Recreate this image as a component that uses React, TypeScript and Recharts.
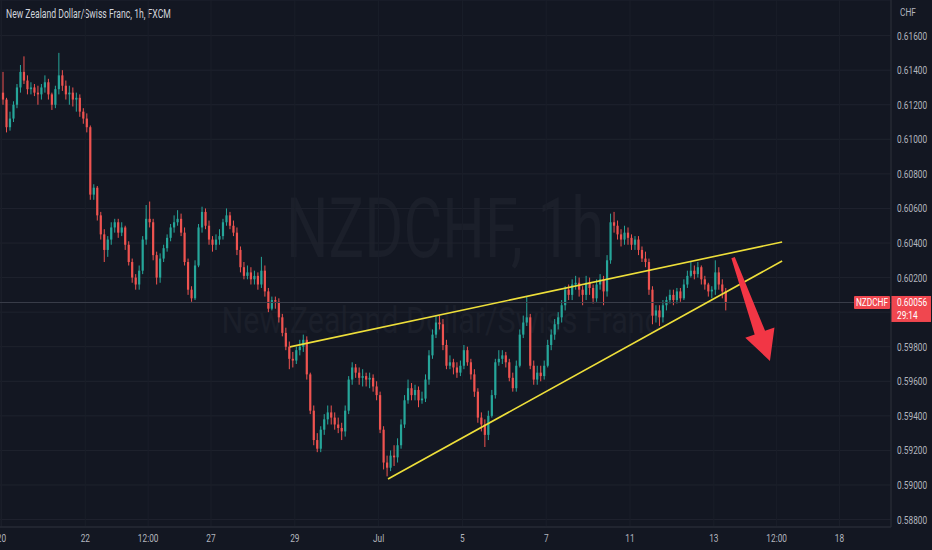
import React from 'react';
import { ComposedChart, Bar, XAxis, YAxis, CartesianGrid, ReferenceLine } from 'recharts';

const firstOpen = 0.6127;
const closes = [
  0.6123, 0.6107, 0.6112, 0.6120, 0.6130, 0.6139, 0.6134, 0.6129, 0.6130, 0.6127,
  0.6126, 0.6130, 0.6133, 0.6126, 0.6120, 0.6129, 0.6137, 0.6131, 0.6126, 0.6127,
  0.6123, 0.6124, 0.6116, 0.6112, 0.6107, 0.6068, 0.6072, 0.6056, 0.6045, 0.6036,
  0.6042, 0.6049, 0.6052, 0.6046, 0.6049, 0.6039, 0.6029, 0.6020, 0.6016, 0.6024,
  0.6042, 0.6054, 0.6052, 0.6033, 0.6020, 0.6031, 0.6037, 0.6043, 0.6049, 0.6052,
  0.6054, 0.6046, 0.6029, 0.6013, 0.6008, 0.6027, 0.6049, 0.6058, 0.6050, 0.6042,
  0.6039, 0.6042, 0.6044, 0.6052, 0.6056, 0.6050, 0.6046, 0.6036, 0.6026, 0.6021,
  0.6023, 0.6019, 0.6021, 0.6016, 0.6024, 0.6012, 0.6002, 0.6007, 0.6006, 0.5997,
  0.5988, 0.5980, 0.5973, 0.5972, 0.5978, 0.5980, 0.5984, 0.5964, 0.5943, 0.5926,
  0.5921, 0.5932, 0.5938, 0.5942, 0.5939, 0.5935, 0.5933, 0.5931, 0.5943, 0.5961,
  0.5968, 0.5965, 0.5962, 0.5963, 0.5961, 0.5962, 0.5957, 0.5952, 0.5932, 0.5913,
  0.5910, 0.5917, 0.5916, 0.5923, 0.5935, 0.5949, 0.5956, 0.5952, 0.5955, 0.5949,
  0.5950, 0.5961, 0.5975, 0.5987, 0.5994, 0.5993, 0.5981, 0.5969, 0.5971, 0.5968,
  0.5965, 0.5969, 0.5978, 0.5971, 0.5964, 0.5954, 0.5939, 0.5935, 0.5929, 0.5940,
  0.5952, 0.5971, 0.5973, 0.5975, 0.5971, 0.5962, 0.5956, 0.5969, 0.5987, 0.5994,
  0.5997, 0.5969, 0.5961, 0.5965, 0.5963, 0.5969, 0.5981, 0.5987, 0.5993, 0.5997,
  0.6004, 0.6013, 0.6010, 0.6016, 0.6017, 0.6013, 0.6010, 0.6017, 0.6014, 0.6008,
  0.6016, 0.6019, 0.6012, 0.6030, 0.6052, 0.6050, 0.6045, 0.6042, 0.6046, 0.6043,
  0.6039, 0.6042, 0.6036, 0.6031, 0.6029, 0.6013, 0.5998, 0.6001, 0.5997, 0.6004,
  0.6007, 0.6010, 0.6007, 0.6012, 0.6008, 0.6016, 0.6021, 0.6024, 0.6022, 0.6026,
  0.6019, 0.6016, 0.6012, 0.6013, 0.6023, 0.6016, 0.6012, 0.60056,
];
const highs = [
  0.6139, 0.6124, 0.6116, 0.6122, 0.6132, 0.6143, 0.6148, 0.6137, 0.6133, 0.6132,
  0.6131, 0.6132, 0.6137, 0.6135, 0.6127, 0.6131, 0.6150, 0.6140, 0.6134, 0.6131,
  0.6130, 0.6127, 0.6126, 0.6118, 0.6115, 0.6108, 0.6074, 0.6073, 0.6058, 0.6048,
  0.6044, 0.6052, 0.6054, 0.6054, 0.6052, 0.6050, 0.6041, 0.6031, 0.6022, 0.6027,
  0.6044, 0.6062, 0.6064, 0.6054, 0.6035, 0.6034, 0.6039, 0.6045, 0.6051, 0.6056,
  0.6059, 0.6057, 0.6049, 0.6031, 0.6015, 0.6030, 0.6051, 0.6061, 0.6060, 0.6053,
  0.6044, 0.6045, 0.6048, 0.6054, 0.6060, 0.6058, 0.6053, 0.6049, 0.6038, 0.6029,
  0.6027, 0.6026, 0.6024, 0.6023, 0.6032, 0.6027, 0.6014, 0.6009, 0.6009, 0.6008,
  0.5999, 0.5991, 0.5983, 0.5977, 0.5980, 0.5984, 0.5987, 0.5986, 0.5965, 0.5946,
  0.5930, 0.5934, 0.5941, 0.5946, 0.5946, 0.5942, 0.5939, 0.5936, 0.5946, 0.5963,
  0.5971, 0.5970, 0.5968, 0.5967, 0.5965, 0.5965, 0.5964, 0.5960, 0.5954, 0.5934,
  0.5917, 0.5920, 0.5923, 0.5927, 0.5938, 0.5952, 0.5961, 0.5959, 0.5958, 0.5957,
  0.5954, 0.5964, 0.5978, 0.5990, 0.5998, 0.5998, 0.5996, 0.5984, 0.5975, 0.5973,
  0.5971, 0.5972, 0.5981, 0.5980, 0.5973, 0.5967, 0.5956, 0.5942, 0.5938, 0.5943,
  0.5955, 0.5973, 0.5978, 0.5978, 0.5977, 0.5973, 0.5965, 0.5972, 0.5990, 0.5998,
  0.6009, 0.5999, 0.5972, 0.5969, 0.5969, 0.5972, 0.5984, 0.5990, 0.5996, 0.6000,
  0.6007, 0.6015, 0.6016, 0.6019, 0.6021, 0.6020, 0.6015, 0.6021, 0.6020, 0.6016,
  0.6019, 0.6022, 0.6021, 0.6033, 0.6057, 0.6058, 0.6053, 0.6048, 0.6050, 0.6049,
  0.6045, 0.6044, 0.6044, 0.6038, 0.6035, 0.6031, 0.6015, 0.6004, 0.6004, 0.6007,
  0.6009, 0.6013, 0.6013, 0.6014, 0.6014, 0.6019, 0.6024, 0.6029, 0.6027, 0.6029,
  0.6027, 0.6021, 0.6017, 0.6015, 0.6030, 0.6026, 0.6019, 0.6014,
];
const lows = [
  0.6120, 0.6104, 0.6105, 0.6110, 0.6118, 0.6127, 0.6132, 0.6126, 0.6126, 0.6125,
  0.6120, 0.6123, 0.6127, 0.6123, 0.6117, 0.6118, 0.6126, 0.6128, 0.6123, 0.6120,
  0.6119, 0.6116, 0.6113, 0.6109, 0.6104, 0.6065, 0.6065, 0.6053, 0.6042, 0.6029,
  0.6032, 0.6039, 0.6046, 0.6043, 0.6044, 0.6036, 0.6027, 0.6017, 0.6013, 0.6013,
  0.6022, 0.6039, 0.6049, 0.6030, 0.6016, 0.6017, 0.6029, 0.6035, 0.6041, 0.6046,
  0.6050, 0.6044, 0.6027, 0.6010, 0.6006, 0.6007, 0.6026, 0.6046, 0.6048, 0.6039,
  0.6035, 0.6036, 0.6039, 0.6042, 0.6050, 0.6048, 0.6044, 0.6033, 0.6023, 0.6019,
  0.6019, 0.6016, 0.6016, 0.6013, 0.6014, 0.6009, 0.6000, 0.6001, 0.6002, 0.5994,
  0.5986, 0.5978, 0.5967, 0.5968, 0.5970, 0.5975, 0.5977, 0.5961, 0.5941, 0.5923,
  0.5919, 0.5919, 0.5929, 0.5935, 0.5935, 0.5932, 0.5930, 0.5926, 0.5928, 0.5941,
  0.5958, 0.5962, 0.5958, 0.5957, 0.5957, 0.5956, 0.5954, 0.5949, 0.5930, 0.5909,
  0.5905, 0.5908, 0.5911, 0.5913, 0.5921, 0.5933, 0.5947, 0.5949, 0.5949, 0.5945,
  0.5947, 0.5948, 0.5958, 0.5973, 0.5985, 0.5990, 0.5978, 0.5967, 0.5967, 0.5964,
  0.5962, 0.5963, 0.5967, 0.5969, 0.5961, 0.5951, 0.5936, 0.5931, 0.5922, 0.5926,
  0.5939, 0.5950, 0.5969, 0.5970, 0.5968, 0.5960, 0.5954, 0.5954, 0.5968, 0.5985,
  0.5992, 0.5967, 0.5958, 0.5958, 0.5960, 0.5961, 0.5968, 0.5978, 0.5984, 0.5990,
  0.5994, 0.6001, 0.6007, 0.6007, 0.6013, 0.6009, 0.6004, 0.6007, 0.6010, 0.6005,
  0.6006, 0.6013, 0.6004, 0.6009, 0.6028, 0.6046, 0.6042, 0.6038, 0.6039, 0.6039,
  0.6036, 0.6036, 0.6033, 0.6029, 0.6026, 0.6010, 0.5993, 0.5994, 0.5992, 0.5994,
  0.6001, 0.6005, 0.6004, 0.6005, 0.6006, 0.6007, 0.6014, 0.6020, 0.6019, 0.6020,
  0.6016, 0.6013, 0.6009, 0.6008, 0.6010, 0.6013, 0.6008, 0.6001,
];

const lastPrice = 0.60056;
const countdown = '29:14';
const symbol = 'NZDCHF';
const title = 'New Zealand Dollar/Swiss Franc, 1h, FXCM';
const description = 'New Zealand Dollar/Swiss Franc';
const watermark = 'NZDCHF, 1h';
const currency = 'CHF';

// x is measured in trading days from Mon 20 Jun (weekends skipped)
const candleDays = 1 / 12;
const xTicks = [0, 2, 3.5, 5, 7, 9, 11, 13, 15, 17, 18.5, 20];
const xTickLabels = ['20', '22', '12:00', '27', '29', 'Jul', '5', '7', '11', '13', '12:00', '18'];
const priceTicks = [
  0.588, 0.59, 0.592, 0.594, 0.596, 0.598, 0.6, 0.602,
  0.604, 0.606, 0.608, 0.61, 0.612, 0.614, 0.616,
];

// drawings
const upperTrend = [{ x: 6.885, y: 0.59799 }, { x: 18.63, y: 0.60406 }];
const lowerTrend = [{ x: 9.224, y: 0.59035 }, { x: 18.63, y: 0.60296 }];
const arrowPath = [{ x: 17.46, y: 0.60316 }, { x: 18.34, y: 0.59718 }];

const candles = closes.map((c, i) => {
  const o = i === 0 ? firstOpen : closes[i - 1];
  return {
    t: i * candleDays + candleDays / 2,
    o,
    c,
    h: Math.max(highs[i], o, c),
    l: Math.min(lows[i], o, c),
  };
});

const BG = '#131722';
const UP = '#26a69a';
const DOWN = '#ef5350';
const TEXT = '#b2b5be';
const SQUEEZE = 0.72;

const Candle = (props: any) => {
  const { x, y, width, height, payload } = props;
  if (!payload || !isFinite(y) || !isFinite(height)) return null;
  const top = Math.min(y, y + height);
  const span = Math.abs(height);
  const { o, h, l, c } = payload;
  const toY = (p: number) => top + ((h - p) / (h - l)) * span;
  const color = c >= o ? UP : DOWN;
  const cx = x + width / 2;
  const bTop = toY(Math.max(o, c));
  const bBot = toY(Math.min(o, c));
  return (
    <g>
      <line x1={cx} x2={cx} y1={top} y2={top + span} stroke={color} strokeWidth={1} />
      <rect x={cx - 1.1} y={bTop} width={2.2} height={Math.max(1, bBot - bTop)} fill={color} />
    </g>
  );
};

const XTick = (props: any) => {
  const { x, y, index } = props;
  return (
    <text
      transform={`translate(${x},${y + 7}) scale(${SQUEEZE},1)`}
      textAnchor="middle"
      fill={TEXT}
      fontSize={11.5}
      fontFamily="Roboto, sans-serif"
    >
      {xTickLabels[index]}
    </text>
  );
};

// price labels that sit under the last-price tag are hidden, as in the reference
const YTick = (props: any) => {
  const { x, y, payload } = props;
  if (Math.abs(payload.value - lastPrice) < 0.0009) return null;
  return (
    <text
      transform={`translate(${x},${y + 4}) scale(${SQUEEZE},1)`}
      textAnchor="start"
      fill={TEXT}
      fontSize={11.5}
      fontFamily="Roboto, sans-serif"
    >
      {Number(payload.value).toFixed(5)}
    </text>
  );
};

const PriceTag = (props: any) => {
  const { viewBox } = props;
  if (!viewBox) return null;
  const right = viewBox.x + viewBox.width;
  const y = viewBox.y;
  const red = '#f0474f';
  const txt = (s: string, tx: number, ty: number, anchor: string) => (
    <text
      transform={`translate(${tx},${ty}) scale(${SQUEEZE},1)`}
      textAnchor={anchor}
      fill="#ffffff"
      fontSize={11.5}
      fontFamily="Roboto, sans-serif"
    >
      {s}
    </text>
  );
  return (
    <g>
      <rect x={right - 37} y={y - 6.5} width={36} height={13} fill={red} rx={1} />
      {txt(symbol, right - 19, y + 4, 'middle')}
      <rect x={right} y={y - 6.5} width={40} height={26} fill={red} />
      {txt(lastPrice.toFixed(5), right + 6, y + 4, 'start')}
      {txt(countdown, right + 6, y + 16.5, 'start')}
    </g>
  );
};

const Arrow = (props: any) => {
  const { x1, y1, x2, y2 } = props;
  const dx = x2 - x1;
  const dy = y2 - y1;
  const len = Math.hypot(dx, dy);
  const ux = dx / len;
  const uy = dy / len;
  const nx = -uy;
  const ny = ux;
  const pt = (a: number, n: number) => `${x1 + ux * a + nx * n},${y1 + uy * a + ny * n}`;
  const neck = len - 30;
  const points = [
    pt(0, 1.8), pt(neck, 5.5), pt(neck, 15.5), pt(len, 0),
    pt(neck, -15.5), pt(neck, -5.5), pt(0, -1.8),
  ].join(' ');
  return <polygon points={points} fill="#f23645" />;
};

export default function App() {
  return (
    <div style={{ position: 'fixed', left: 0, top: 0, width: 932, height: 550, background: BG, overflow: 'hidden' }}>
      <svg width={932} height={550} style={{ position: 'absolute', left: 0, top: 0 }}>
        <text x={445} y={257} textAnchor="middle" fontSize={84} fontFamily="Roboto, sans-serif"
          fill="#1b1f2a" textLength={318} lengthAdjust="spacingAndGlyphs">
          {watermark}
        </text>
        <text x={441} y={333} textAnchor="middle" fontSize={36} fontFamily="Roboto, sans-serif"
          fill="#1b1f2a" textLength={439} lengthAdjust="spacingAndGlyphs">
          {description}
        </text>
        <text transform={`translate(6,18) scale(${SQUEEZE},1)`} fontSize={12} fill="#d1d4dc"
          fontFamily="Roboto, sans-serif">
          {title}
        </text>
        <text transform={`translate(900,16) scale(${SQUEEZE},1)`} fontSize={11.5} fill={TEXT}
          fontFamily="Roboto, sans-serif">
          {currency}
        </text>
      </svg>
      <div style={{ position: 'absolute', left: 0, top: 0 }}>
        <ComposedChart width={932} height={550} data={candles} margin={{ top: 0, right: 0, bottom: 0, left: 0 }}>
          <CartesianGrid vertical={false} stroke="#1f232e" />
          <CartesianGrid horizontal={false} stroke="#1a1e29" />
          <XAxis
            type="number"
            dataKey="t"
            scale="linear"
            domain={[-0.036, 21.229]}
            allowDataOverflow
            ticks={xTicks}
            interval={0}
            height={23}
            tickSize={0}
            tickMargin={8}
            tick={<XTick />}
            axisLine={{ stroke: '#2a2e39' }}
            tickLine={false}
          />
          <YAxis
            orientation="right"
            type="number"
            domain={[0.58757, 0.61806]}
            allowDataOverflow
            ticks={priceTicks}
            interval={0}
            width={41}
            tickSize={0}
            tickMargin={6}
            tick={<YTick />}
            axisLine={{ stroke: '#2a2e39' }}
            tickLine={false}
          />
          <ReferenceLine y={lastPrice} stroke="#3a3e49" strokeWidth={1} label={PriceTag} />
          <Bar
            dataKey={(d: any) => [d.l, d.h]}
            barSize={3}
            shape={Candle}
            isAnimationActive={false}
          />
          <ReferenceLine segment={upperTrend} stroke="#eedf3a" strokeWidth={1.6} ifOverflow="visible" />
          <ReferenceLine segment={lowerTrend} stroke="#eedf3a" strokeWidth={1.6} ifOverflow="visible" />
          <ReferenceLine segment={arrowPath} ifOverflow="visible" shape={Arrow} />
        </ComposedChart>
      </div>
    </div>
  );
}
